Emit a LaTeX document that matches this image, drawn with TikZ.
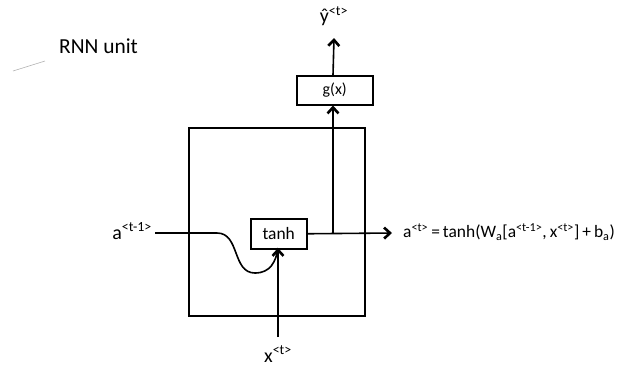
\documentclass[tikz,border=0pt]{standalone}
\usepackage{fontspec}
\setmainfont{Carlito}
\usetikzlibrary{arrows.meta}
\newcommand{\sps}[1]{\textsuperscript{#1}}
\newcommand{\sbs}[1]{\textsubscript{#1}}
\newcommand{\tsp}{\hspace{3bp}}
\begin{document}
\begin{tikzpicture}[x=1bp,y=-1bp,
  ln/.style={line width=1.6bp},
  arr/.style={ln,-{Straight Barb[length=6bp,width=11bp,line width=2.6bp]}},
  boxn/.style={draw,line width=1.5bp,inner sep=0pt,anchor=north west},
  lbl/.style={inner sep=0pt,font=\fontsize{20}{24}\selectfont}]
\useasboundingbox (0,0) rectangle (628,368);
% title
\node[inner sep=0pt,anchor=west,font=\fontsize{21.5}{25}\selectfont] (title) at (59,46) {RNN unit};
\draw[gray!60,line width=0.6bp] (13,71) -- (45,61);
% boxes
\node[boxn,minimum width=176bp,minimum height=188bp] (cell) at (188,127) {};
\node[boxn,minimum width=56bp,minimum height=30bp,font=\fontsize{17.5}{20}\selectfont] (tanh) at (250,218) {tanh};
\node[boxn,minimum width=76bp,minimum height=29bp,font=\fontsize{16}{18}\selectfont] (g) at (296,75) {g(x)};
% labels
\node[lbl,anchor=east] (aprev) at (152,231) {a\sps{<t-1>}};
\node[lbl] (x) at (278,354) {x\sps{<t>}};
\node[lbl] (yhat) at (334,16) {ŷ\sps{<t>}};
\node[lbl,anchor=west,font=\fontsize{17.5}{21}\selectfont] (eq) at (403,232) {a\sps{<t>}\tsp=\tsp tanh(W\sbs{a}[a\sps{<t-1>},\tsp x\sps{<t>}]\tsp+\tsp b\sbs{a})};
% coordinates
\coordinate (ain) at (155,233);
\coordinate (tb) at (278,248);
\coordinate (branch) at (333,233);
\coordinate (aout) at (392,233);
% connectors
\draw[ln] (ain) -- (217,233) .. controls (240,233) and (232,273) .. (255,273)
  .. controls (270,273) and (276,262) .. (tb);
\draw[arr] (x.north |- 0,337) -- (tb);
\draw[arr] (tanh.east) -- (aout);
\draw[arr] (branch) -- (branch |- g.south);
\draw[arr] (g.north -| branch) -- (334,38);
\end{tikzpicture}
\end{document}
